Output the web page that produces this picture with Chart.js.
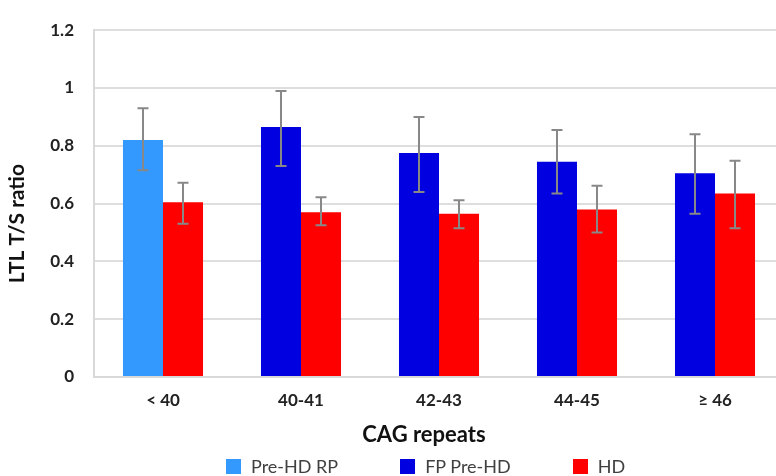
<!DOCTYPE html>
<html>
<head>
<meta charset="utf-8">
<script src="https://cdn.jsdelivr.net/npm/chart.js@4/dist/chart.umd.min.js"></script>
<style>
  html, body { margin: 0; padding: 0; background: #fff; overflow: hidden; }
  #wrap { position: relative; width: 790px; height: 476px; }
  #legenda { position: absolute; left: 226px; top: 456px; display: flex; gap: 62px;
             font-family: Lato, "Open Sans", sans-serif; font-size: 18px; line-height: 20px; color: #404040; }
  .item { display: flex; align-items: center; }
  .quadrado { width: 15px; height: 15px; margin-right: 10px; }
</style>
</head>
<body>
<div id="wrap">
  <canvas id="grafico" width="790" height="476"></canvas>
  <div id="legenda"></div>
</div>
<script>
// ================= DADOS =================
const categorias = ['< 40', '40-41', '42-43', '44-45', '≥ 46'];
const grupoPreHD = ['Pre-HD RP', 'FP Pre-HD', 'FP Pre-HD', 'FP Pre-HD', 'FP Pre-HD'];
const preHD    = [0.82, 0.865, 0.775, 0.745, 0.705];
const preHDMin = [0.715, 0.73, 0.64, 0.635, 0.565];
const preHDMax = [0.93, 0.99, 0.90, 0.855, 0.84];
const hd       = [0.605, 0.57, 0.565, 0.58, 0.635];
const hdMin    = [0.53, 0.525, 0.515, 0.50, 0.515];
const hdMax    = [0.672, 0.622, 0.612, 0.662, 0.748];
const legendaNomes = ['Pre-HD RP', 'FP Pre-HD', 'HD'];
const legendaCores = ['#3399ff', '#0000e0', '#ff0000'];
const tituloX = 'CAG repeats';
const tituloY = 'LTL T/S ratio';

const corDe = nome => legendaCores[legendaNomes.indexOf(nome)];
const fonte = 'Lato, "Open Sans", sans-serif';

// ================= BARRAS DE ERRO =================
const barrasErro = {
  id: 'barrasErro',
  afterDatasetsDraw(chart) {
    const ctx = chart.ctx;
    const y = chart.scales.y;
    const limites = [[preHDMin, preHDMax], [hdMin, hdMax]];
    ctx.save();
    ctx.strokeStyle = '#888888';
    ctx.lineWidth = 2;
    limites.forEach((lim, d) => {
      chart.getDatasetMeta(d).data.forEach((barra, i) => {
        const x = barra.x;
        const topo = y.getPixelForValue(lim[1][i]);
        const base = y.getPixelForValue(lim[0][i]);
        ctx.beginPath();
        ctx.moveTo(x, topo); ctx.lineTo(x, base);
        ctx.moveTo(x - 5.5, topo); ctx.lineTo(x + 5.5, topo);
        ctx.moveTo(x - 5.5, base); ctx.lineTo(x + 5.5, base);
        ctx.stroke();
      });
    });
    ctx.restore();
  }
};

// ================= TÍTULOS DOS EIXOS =================
// desenhados a parte pq no original nao estao centralizados na area do grafico
const titulosEixos = {
  id: 'titulosEixos',
  afterDraw(chart) {
    const ctx = chart.ctx;
    const area = chart.chartArea;
    ctx.save();
    ctx.fillStyle = '#111';
    ctx.textAlign = 'center';
    ctx.textBaseline = 'middle';
    ctx.font = `bold 22px ${fonte}`;
    ctx.fillText(tituloX, (area.left + area.right) / 2 - 15, area.bottom + 58);
    ctx.translate(17, (area.top + area.bottom) / 2 + 20);
    ctx.rotate(-Math.PI / 2);
    ctx.font = `bold 21px ${fonte}`;
    ctx.fillText(tituloY, 0, 0);
    ctx.restore();
  }
};

// ================= GRÁFICO =================
new Chart(document.getElementById('grafico'), {
  type: 'bar',
  data: {
    labels: categorias,
    datasets: [
      { label: 'Pre-HD', data: preHD, backgroundColor: grupoPreHD.map(corDe), borderWidth: 0 },
      { label: 'HD', data: hd, backgroundColor: corDe('HD'), borderWidth: 0 }
    ]
  },
  options: {
    responsive: false,
    animation: false,
    devicePixelRatio: 1,
    categoryPercentage: 0.58,
    barPercentage: 1.0,
    layout: { padding: { top: 25, right: 6, left: 0, bottom: 0 } },
    plugins: { legend: { display: false }, tooltip: { enabled: false } },
    scales: {
      x: {
        grid: { display: false, drawTicks: false },
        border: { color: '#d9d9d9', width: 2 },
        ticks: { color: '#222', padding: 13, font: { family: fonte, size: 17, weight: 'bold' } },
        afterFit: s => { s.height = 99; }
      },
      y: {
        min: 0, max: 1.2,
        ticks: {
          stepSize: 0.2, color: '#222', padding: 20,
          font: { family: fonte, size: 17, weight: 'bold' },
          callback: v => String(Number(v.toFixed(1)))
        },
        grid: { color: '#dedede', lineWidth: 2, drawTicks: false },
        border: { color: '#d9d9d9', width: 2 },
        afterFit: s => { s.width = 94; }
      }
    }
  },
  plugins: [barrasErro, titulosEixos]
});

// ================= LEGENDA =================
const legenda = document.getElementById('legenda');
legendaNomes.forEach((nome, i) => {
  legenda.innerHTML += `
    <div class="item"><div class="quadrado" style="background:${legendaCores[i]}"></div><span>${nome}</span></div>
  `;
});
</script>
</body>
</html>
